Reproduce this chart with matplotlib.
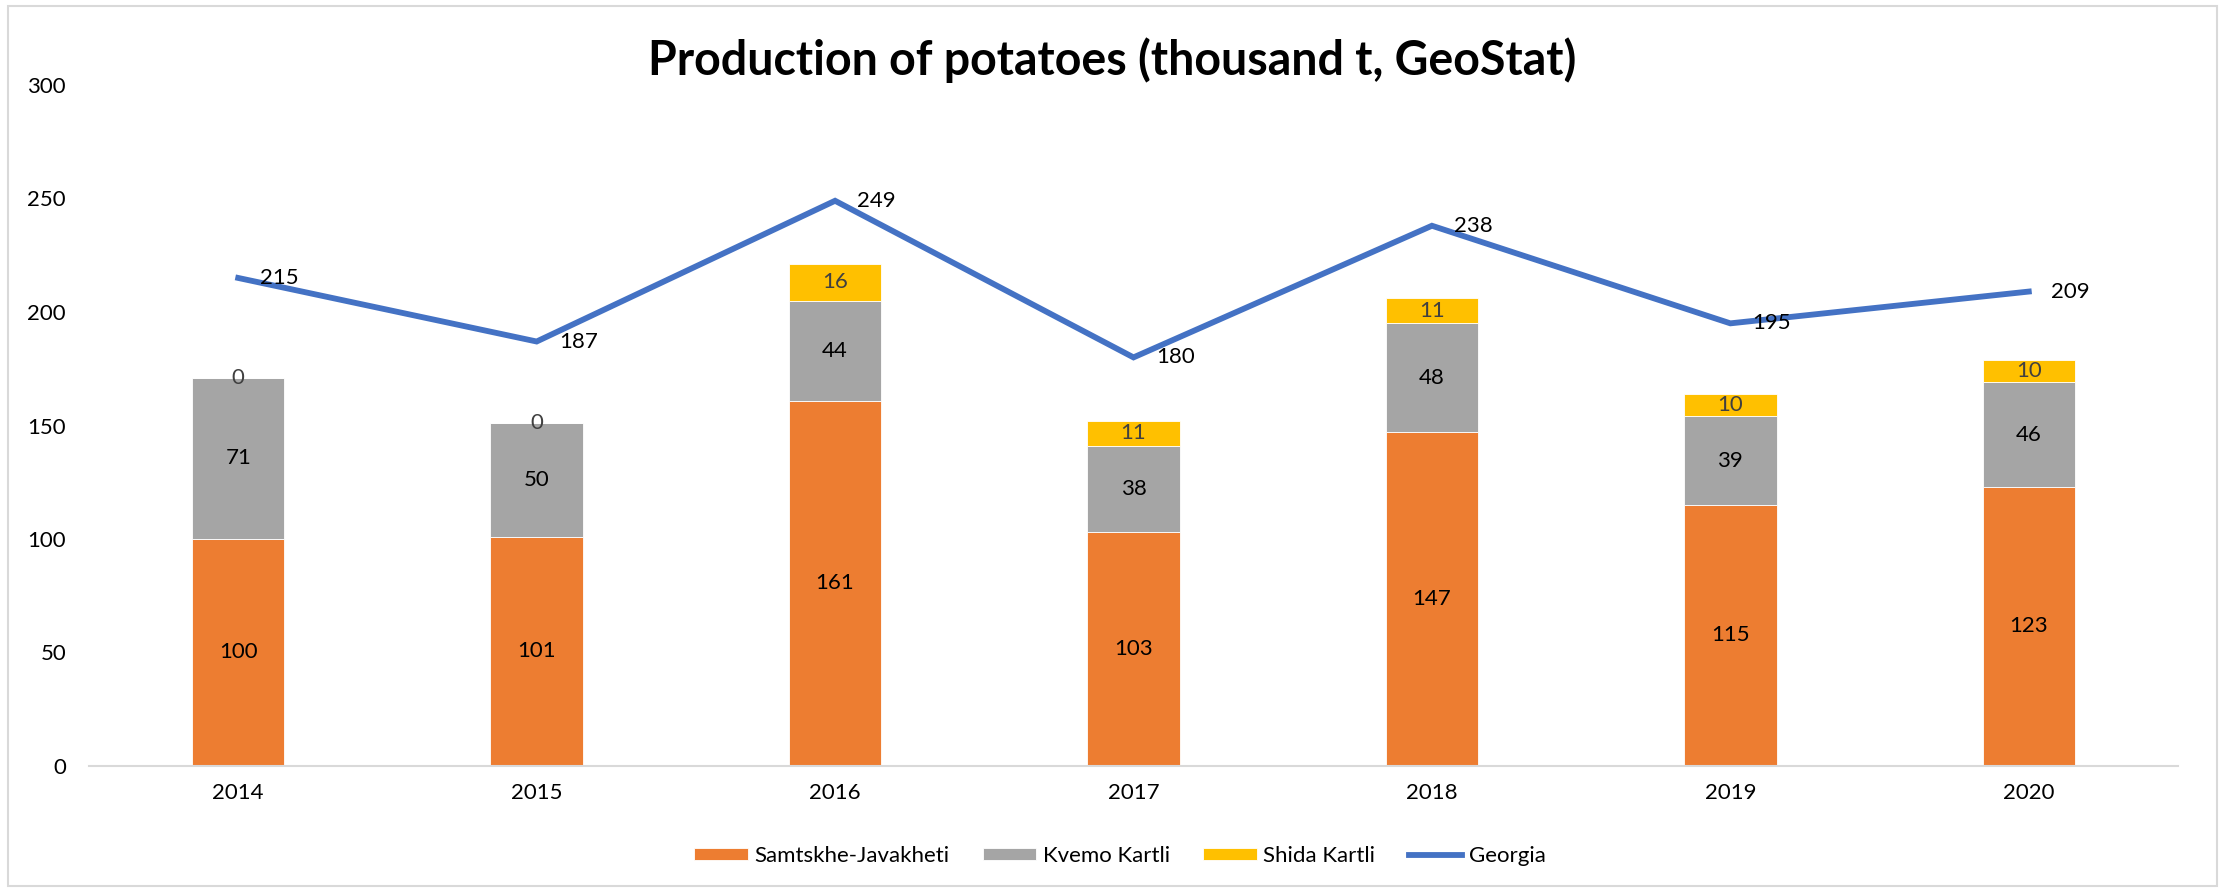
import matplotlib.pyplot as plt
import numpy as np
from matplotlib.patches import Rectangle

plt.rcParams['font.family'] = ['Lato', 'DejaVu Sans']

years = ['2014', '2015', '2016', '2017', '2018', '2019', '2020']
samtskhe = [100, 101, 161, 103, 147, 115, 123]
kvemo = [71, 50, 44, 38, 48, 39, 46]
shida = [0, 0, 16, 11, 11, 10, 10]
georgia = [215, 187, 249, 180, 238, 195, 209]

ORANGE = '#ED7D31'
GRAY = '#A5A5A5'
YELLOW = '#FFC000'
BLUE = '#4472C4'
FS = 16

fig = plt.figure(figsize=(22.24, 8.91), dpi=100)
ax = fig.add_axes([89/2224, 1 - 766/891, (2178 - 89)/2224, (766 - 85)/891])

x = np.arange(len(years))
w = 0.31
bottom2 = np.array(samtskhe)
bottom3 = bottom2 + np.array(kvemo)

b1 = ax.bar(x, samtskhe, w, color=ORANGE, edgecolor='white', linewidth=0.6, label='Samtskhe-Javakheti')
b2 = ax.bar(x, kvemo, w, bottom=bottom2, color=GRAY, edgecolor='white', linewidth=0.6, label='Kvemo Kartli')
b3 = ax.bar(x, shida, w, bottom=bottom3, color=YELLOW, edgecolor='white', linewidth=0.6, label='Shida Kartli')
ln, = ax.plot(x, georgia, color=BLUE, linewidth=4.2, solid_joinstyle='miter', label='Georgia')

# segment labels
for i in x:
    ax.text(i, samtskhe[i] / 2, str(samtskhe[i]), ha='center', va='center', fontsize=FS, color='black')
    ax.text(i, bottom2[i] + kvemo[i] / 2, str(kvemo[i]), ha='center', va='center', fontsize=FS, color='black')
    ax.text(i, bottom3[i] + shida[i] / 2, str(shida[i]), ha='center', va='center', fontsize=FS, color='#404040')
    ax.annotate(str(georgia[i]), (i, georgia[i]), xytext=(16, 0), textcoords='offset points',
                ha='left', va='center', fontsize=FS, color='black')

ax.set_xlim(-0.5, len(years) - 0.5)
ax.set_ylim(0, 300)
ax.set_yticks(range(0, 301, 50))
ax.set_xticks(x)
ax.set_xticklabels(years)
ax.tick_params(axis='y', length=0, pad=16.5, labelsize=FS)
ax.tick_params(axis='x', length=0, pad=12, labelsize=FS)
for s in ['top', 'right', 'left']:
    ax.spines[s].set_visible(False)
ax.spines['bottom'].set_color('#D9D9D9')
ax.spines['bottom'].set_linewidth(1.5)

fig.text(0.5, 1 - 60/891, 'Production of potatoes (thousand t, GeoStat)', ha='center', va='center',
         fontsize=33.5, fontweight='bold')

fig.legend(handles=[b1, b2, b3, ln], loc='center', bbox_to_anchor=(1120/2224, 1 - 856/891), ncol=4,
           frameon=False, fontsize=FS, handlelength=2.4, handleheight=0.5, handletextpad=0.3,
           columnspacing=1.5)

fig.patches.append(Rectangle((8/2224, 1 - 886/891), (2217 - 8)/2224, (886 - 6)/891, transform=fig.transFigure,
                             fill=False, edgecolor='#D9D9D9', linewidth=1.5))

fig.savefig('out.png', dpi=100)
